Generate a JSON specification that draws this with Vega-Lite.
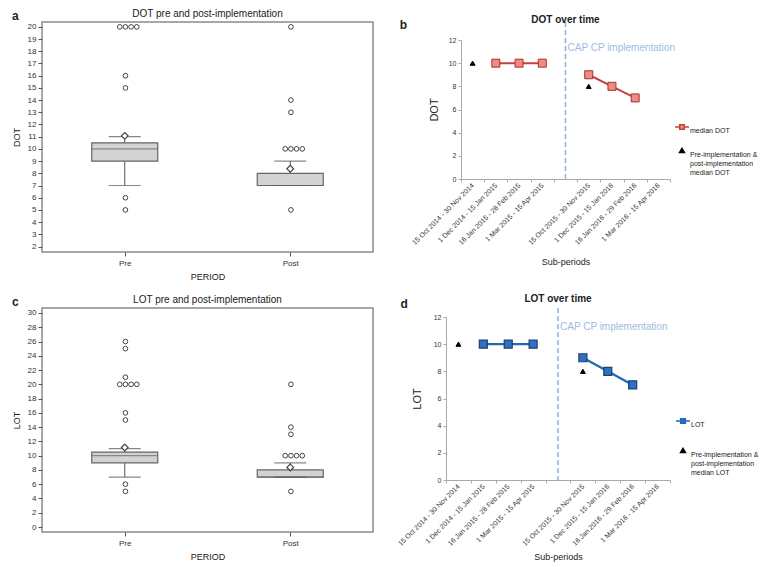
{
  "$schema": "https://vega.github.io/schema/vega-lite/v6.json",
  "background": "white",
  "padding": {"left": 11, "top": 8, "right": 2, "bottom": 2},
  "config": {
    "font": "Liberation Sans",
    "title": {"font": "Liberation Sans", "color": "#222"},
    "axis": {"labelFont": "Liberation Sans", "titleFont": "Liberation Sans", "labelColor": "#333", "titleColor": "#222", "titleFontWeight": "normal", "labelOverlap": false},
    "legend": {"labelFont": "Liberation Sans", "labelColor": "#222"}
  },
  "datasets": {
    "boxDOT": [
      {"period": "Pre", "lo": 7, "q1": 9, "median": 10, "q3": 10.5, "hi": 11, "mean": 11.07},
      {"period": "Post", "lo": 7, "q1": 7, "median": 7, "q3": 8, "hi": 9, "mean": 8.37}
    ],
    "outDOT": [
      {"period": "Pre", "value": 20, "dup": 0}, {"period": "Pre", "value": 20, "dup": 1}, {"period": "Pre", "value": 20, "dup": 2}, {"period": "Pre", "value": 20, "dup": 3},
      {"period": "Pre", "value": 16, "dup": 1}, {"period": "Pre", "value": 15, "dup": 1}, {"period": "Pre", "value": 6, "dup": 1}, {"period": "Pre", "value": 5, "dup": 1},
      {"period": "Post", "value": 20, "dup": 1}, {"period": "Post", "value": 14, "dup": 1}, {"period": "Post", "value": 13, "dup": 1},
      {"period": "Post", "value": 10, "dup": 0}, {"period": "Post", "value": 10, "dup": 1}, {"period": "Post", "value": 10, "dup": 2}, {"period": "Post", "value": 10, "dup": 3},
      {"period": "Post", "value": 5, "dup": 1}
    ],
    "boxLOT": [
      {"period": "Pre", "lo": 7, "q1": 9, "median": 10, "q3": 10.5, "hi": 11, "mean": 11.15},
      {"period": "Post", "lo": 7, "q1": 7, "median": 7, "q3": 8, "hi": 9, "mean": 8.35}
    ],
    "outLOT": [
      {"period": "Pre", "value": 26, "dup": 1}, {"period": "Pre", "value": 25, "dup": 1}, {"period": "Pre", "value": 21, "dup": 1},
      {"period": "Pre", "value": 20, "dup": 0}, {"period": "Pre", "value": 20, "dup": 1}, {"period": "Pre", "value": 20, "dup": 2}, {"period": "Pre", "value": 20, "dup": 3},
      {"period": "Pre", "value": 16, "dup": 1}, {"period": "Pre", "value": 15, "dup": 1}, {"period": "Pre", "value": 6, "dup": 1}, {"period": "Pre", "value": 5, "dup": 1},
      {"period": "Post", "value": 20, "dup": 1}, {"period": "Post", "value": 14, "dup": 1}, {"period": "Post", "value": 13, "dup": 1},
      {"period": "Post", "value": 10, "dup": 0}, {"period": "Post", "value": 10, "dup": 1}, {"period": "Post", "value": 10, "dup": 2}, {"period": "Post", "value": 10, "dup": 3},
      {"period": "Post", "value": 5, "dup": 1}
    ],
    "lineDOT": [
      {"period": "1 Dec 2014 - 15 Jan 2015", "value": 10, "series": "median DOT", "phase": "pre"},
      {"period": "16 Jan 2015 - 28 Feb 2015", "value": 10, "series": "median DOT", "phase": "pre"},
      {"period": "1 Mar 2015 - 15 Apr 2015", "value": 10, "series": "median DOT", "phase": "pre"},
      {"period": "15 Oct 2015 - 30 Nov 2015", "value": 9, "series": "median DOT", "phase": "post"},
      {"period": "1 Dec 2015 - 15 Jan 2016", "value": 8, "series": "median DOT", "phase": "post"},
      {"period": "16 Jan 2016 - 29 Feb 2016", "value": 7, "series": "median DOT", "phase": "post"},
      {"period": "15 Oct 2014 - 30 Nov 2014", "value": 10, "series": "Pre-implementation & post-implementation median DOT", "phase": "pre"},
      {"period": "15 Oct 2015 - 30 Nov 2015", "value": 8, "series": "Pre-implementation & post-implementation median DOT", "phase": "post"}
    ],
    "lineLOT": [
      {"period": "1 Dec 2014 - 15 Jan 2015", "value": 10, "series": "LOT", "phase": "pre"},
      {"period": "16 Jan 2015 - 28 Feb 2015", "value": 10, "series": "LOT", "phase": "pre"},
      {"period": "1 Mar 2015 - 15 Apr 2015", "value": 10, "series": "LOT", "phase": "pre"},
      {"period": "15 Oct 2015 - 30 Nov 2015", "value": 9, "series": "LOT", "phase": "post"},
      {"period": "1 Dec 2015 - 15 Jan 2016", "value": 8, "series": "LOT", "phase": "post"},
      {"period": "16 Jan 2016 - 29 Feb 2016", "value": 7, "series": "LOT", "phase": "post"},
      {"period": "15 Oct 2014 - 30 Nov 2014", "value": 10, "series": "Pre-implementation & post-implementation median LOT", "phase": "pre"},
      {"period": "15 Oct 2015 - 30 Nov 2015", "value": 8, "series": "Pre-implementation & post-implementation median LOT", "phase": "post"}
    ],
    "marker": [{"label": "CAP CP implementation"}]
  },
  "spacing": 12,
  "resolve": {"scale": {"shape": "independent", "fill": "independent", "stroke": "independent", "size": "independent"}, "legend": {"shape": "independent", "fill": "independent", "stroke": "independent", "size": "independent"}},
  "vconcat": [
    {
      "spacing": 25,
      "resolve": {"scale": {"shape": "independent", "fill": "independent", "stroke": "independent", "size": "independent"}, "legend": {"shape": "independent", "fill": "independent", "stroke": "independent", "size": "independent"}},
      "hconcat": [
        {
          "title": {"text": "a", "orient": "left", "anchor": "end", "angle": 0, "fontSize": 12, "fontWeight": "bold", "offset": -14, "dy": 3},
          "vconcat": [
            {
              "width": 331, "height": 230,
              "view": {"stroke": "#8a8a8a", "strokeWidth": 1.5},
              "title": {"text": "DOT pre and post-implementation", "fontSize": 10, "fontWeight": "normal", "offset": 3, "frame": "group"},
              "layer": [
                {"data": {"name": "boxDOT"}, "mark": {"type": "rule", "color": "#555"},
                 "encoding": {
                   "x": {"field": "period", "type": "nominal", "title": "PERIOD", "scale": {"type": "point", "domain": ["Pre", "Post"], "padding": 0.5},
                         "axis": {"labelAngle": 0, "labelFontSize": 8, "titleFontSize": 9, "tickSize": 4, "tickColor": "#555", "domain": false, "labelPadding": 3, "titlePadding": 5}},
                   "y": {"field": "lo", "type": "quantitative", "title": "DOT", "scale": {"domain": [1.55, 20.4], "nice": false, "zero": false},
                         "axis": {"values": [2,3,4,5,6,7,8,9,10,11,12,13,14,15,16,17,18,19,20], "tickCount": 40, "format": "d", "labelOverlap": false, "labelFontSize": 8, "titleFontSize": 9, "tickSize": 4, "tickColor": "#555", "domain": false, "grid": false, "labelPadding": 2, "titlePadding": 6}},
                   "y2": {"field": "q1"}}},
                {"data": {"name": "boxDOT"}, "mark": {"type": "rule", "color": "#555"},
                 "encoding": {"x": {"field": "period", "type": "nominal", "title": "PERIOD"}, "y": {"field": "q3", "type": "quantitative", "title": "DOT"}, "y2": {"field": "hi"}}},
                {"data": {"name": "boxDOT"}, "mark": {"type": "bar", "width": 66, "fill": "#d3d3d3", "stroke": "#666", "strokeWidth": 1.2},
                 "encoding": {"x": {"field": "period", "type": "nominal", "title": "PERIOD"}, "y": {"field": "q1", "type": "quantitative", "title": "DOT"}, "y2": {"field": "q3"}}},
                {"data": {"name": "boxDOT"}, "mark": {"type": "tick", "size": 66, "thickness": 1.2, "color": "#666"},
                 "encoding": {"x": {"field": "period", "type": "nominal", "title": "PERIOD"}, "y": {"field": "median", "type": "quantitative", "title": "DOT"}}},
                {"data": {"name": "boxDOT"}, "mark": {"type": "tick", "size": 32, "thickness": 1.2, "color": "#555"},
                 "encoding": {"x": {"field": "period", "type": "nominal", "title": "PERIOD"}, "y": {"field": "lo", "type": "quantitative", "title": "DOT"}}},
                {"data": {"name": "boxDOT"}, "mark": {"type": "tick", "size": 32, "thickness": 1.2, "color": "#555"},
                 "encoding": {"x": {"field": "period", "type": "nominal", "title": "PERIOD"}, "y": {"field": "hi", "type": "quantitative", "title": "DOT"}}},
                {"data": {"name": "boxDOT"}, "mark": {"type": "point", "shape": "diamond", "filled": true, "fill": "white", "stroke": "#444", "strokeWidth": 1.2, "size": 45, "opacity": 1},
                 "encoding": {"x": {"field": "period", "type": "nominal", "title": "PERIOD"}, "y": {"field": "mean", "type": "quantitative", "title": "DOT"}}},
                {"data": {"name": "outDOT"}, "mark": {"type": "point", "shape": "circle", "filled": false, "stroke": "#444", "strokeWidth": 1, "size": 22, "opacity": 1},
                 "encoding": {"x": {"field": "period", "type": "nominal", "title": "PERIOD"}, "xOffset": {"field": "dup", "type": "quantitative", "scale": {"domain": [0, 3], "range": [-5, 12]}},
                              "y": {"field": "value", "type": "quantitative", "title": "DOT"}}}
              ]
            }
          ]
        },
        {
          "title": {"text": "b", "orient": "left", "anchor": "end", "angle": 0, "fontSize": 12, "fontWeight": "bold", "offset": -4, "dy": 5},
          "resolve": {"scale": {"shape": "independent", "fill": "independent", "stroke": "independent", "size": "independent"}, "legend": {"shape": "independent", "fill": "independent", "stroke": "independent", "size": "independent"}},
          "vconcat": [
            {
              "width": 209, "height": 157,
              "view": {"stroke": null},
              "title": {"text": "DOT over time", "fontSize": 10, "fontWeight": "bold", "offset": -4, "frame": "group"},
              "layer": [
                {"data": {"name": "marker"}, "mark": {"type": "rule", "color": "#8fb1e0", "strokeDash": [5, 3], "strokeWidth": 1.5},
                 "encoding": {"x": {"datum": "gap", "type": "ordinal"}}},
                {"data": {"name": "marker"}, "mark": {"type": "text", "align": "left", "dx": 2, "color": "#9dbbe6", "fontSize": 10},
                 "encoding": {"x": {"datum": "gap", "type": "ordinal"}, "y": {"datum": 11.3, "type": "quantitative"}, "text": {"field": "label"}}},
                {"data": {"name": "lineDOT"}, "transform": [{"filter": "datum.series == 'median DOT'"}],
                 "mark": {"type": "line", "color": "#c9403a", "strokeWidth": 2},
                 "encoding": {
                   "x": {"field": "period", "type": "ordinal", "title": "Sub-periods",
                         "scale": {"type": "band", "paddingInner": 0, "paddingOuter": 0, "domain": ["15 Oct 2014 - 30 Nov 2014", "1 Dec 2014 - 15 Jan 2015", "16 Jan 2015 - 28 Feb 2015", "1 Mar 2015 - 15 Apr 2015", "gap", "15 Oct 2015 - 30 Nov 2015", "1 Dec 2015 - 15 Jan 2016", "16 Jan 2016 - 29 Feb 2016", "1 Mar 2016 - 15 Apr 2016"]},
                         "axis": {"labelAngle": -45, "labelExpr": "datum.value == 'gap' ? '' : datum.value", "labelFontSize": 7, "labelColor": "#333", "tickBand": "extent", "tickSize": 3, "tickColor": "#aaa", "domainColor": "#aaa", "titleFontSize": 9, "titlePadding": 12, "labelPadding": 2}},
                   "y": {"field": "value", "type": "quantitative", "title": "DOT", "scale": {"domain": [0, 12], "nice": false, "range": [157, 18]},
                         "axis": {"values": [0, 2, 4, 6, 8, 10, 12], "tickCount": 20, "format": "d", "labelOverlap": false, "labelFontSize": 7, "titleFontSize": 11, "gridColor": "#b5b5b5", "domainColor": "#aaa", "tickColor": "#aaa", "tickSize": 3, "labelPadding": 2, "titlePadding": 9}},
                   "detail": {"field": "phase"}}},
                {"data": {"name": "lineDOT"}, "transform": [{"filter": "datum.series == 'median DOT'"}],
                 "mark": {"type": "point", "shape": "square", "filled": true, "fill": "#f08a85", "stroke": "#a8322c", "strokeWidth": 1, "size": 64, "opacity": 1},
                 "encoding": {"x": {"field": "period", "type": "ordinal", "title": "Sub-periods"}, "y": {"field": "value", "type": "quantitative", "title": "DOT"}}},
                {"data": {"name": "lineDOT"}, "transform": [{"filter": "datum.series != 'median DOT'"}],
                 "mark": {"type": "point", "filled": true, "opacity": 1, "strokeWidth": 1},
                 "encoding": {
                   "x": {"field": "period", "type": "ordinal", "title": "Sub-periods"},
                   "y": {"field": "value", "type": "quantitative", "title": "DOT"},
                   "shape": {"field": "series", "type": "nominal", "scale": {"domain": ["median DOT", "Pre-implementation & post-implementation median DOT"], "range": ["M-1.8,0H-0.6M0.6,0H1.8M-0.6,-0.6H0.6V0.6H-0.6Z", "triangle-up"]},
                             "legend": {"title": null, "orient": "none", "legendX": 216, "legendY": 100, "labelFontSize": 7, "labelLimit": 200, "rowPadding": 11, "symbolStrokeWidth": 1.5, "labelOffset": 3,
                                        "labelExpr": "datum.value == 'median DOT' ? datum.label : ['Pre-implementation &', 'post-implementation', 'median DOT']",
                                        "labelBaseline": "top",
                                        "encode": {"labels": {"update": {"dy": {"value": -4}}}}}},
                   "fill": {"field": "series", "type": "nominal", "scale": {"domain": ["median DOT", "Pre-implementation & post-implementation median DOT"], "range": ["#f08a85", "black"]}},
                   "stroke": {"field": "series", "type": "nominal", "scale": {"domain": ["median DOT", "Pre-implementation & post-implementation median DOT"], "range": ["#c9403a", "black"]}},
                   "size": {"field": "series", "type": "ordinal", "scale": {"domain": ["median DOT", "Pre-implementation & post-implementation median DOT"], "range": [60, 24]}}}}
              ]
            }
          ]
        }
      ]
    },
    {
      "spacing": 22,
      "resolve": {"scale": {"shape": "independent", "fill": "independent", "stroke": "independent", "size": "independent"}, "legend": {"shape": "independent", "fill": "independent", "stroke": "independent", "size": "independent"}},
      "hconcat": [
        {
          "title": {"text": "c", "orient": "left", "anchor": "end", "angle": 0, "fontSize": 12, "fontWeight": "bold", "offset": -14, "dy": 3},
          "vconcat": [
            {
              "width": 331, "height": 224,
              "view": {"stroke": "#8a8a8a", "strokeWidth": 1.5},
              "title": {"text": "LOT pre and post-implementation", "fontSize": 10, "fontWeight": "normal", "offset": 3, "frame": "group"},
              "layer": [
                {"data": {"name": "boxLOT"}, "mark": {"type": "rule", "color": "#555"},
                 "encoding": {
                   "x": {"field": "period", "type": "nominal", "title": "PERIOD", "scale": {"type": "point", "domain": ["Pre", "Post"], "padding": 0.5},
                         "axis": {"labelAngle": 0, "labelFontSize": 8, "titleFontSize": 9, "tickSize": 4, "tickColor": "#555", "domain": false, "labelPadding": 3, "titlePadding": 5}},
                   "y": {"field": "lo", "type": "quantitative", "title": "LOT", "scale": {"domain": [-0.7, 30.7], "nice": false, "zero": false},
                         "axis": {"values": [0,2,4,6,8,10,12,14,16,18,20,22,24,26,28,30], "tickCount": 40, "format": "d", "labelOverlap": false, "labelFontSize": 8, "titleFontSize": 9, "tickSize": 4, "tickColor": "#555", "domain": false, "grid": false, "labelPadding": 2, "titlePadding": 6}},
                   "y2": {"field": "q1"}}},
                {"data": {"name": "boxLOT"}, "mark": {"type": "rule", "color": "#555"},
                 "encoding": {"x": {"field": "period", "type": "nominal", "title": "PERIOD"}, "y": {"field": "q3", "type": "quantitative", "title": "LOT"}, "y2": {"field": "hi"}}},
                {"data": {"name": "boxLOT"}, "mark": {"type": "bar", "width": 66, "fill": "#d3d3d3", "stroke": "#666", "strokeWidth": 1.2},
                 "encoding": {"x": {"field": "period", "type": "nominal", "title": "PERIOD"}, "y": {"field": "q1", "type": "quantitative", "title": "LOT"}, "y2": {"field": "q3"}}},
                {"data": {"name": "boxLOT"}, "mark": {"type": "tick", "size": 66, "thickness": 1.2, "color": "#666"},
                 "encoding": {"x": {"field": "period", "type": "nominal", "title": "PERIOD"}, "y": {"field": "median", "type": "quantitative", "title": "LOT"}}},
                {"data": {"name": "boxLOT"}, "mark": {"type": "tick", "size": 32, "thickness": 1.2, "color": "#555"},
                 "encoding": {"x": {"field": "period", "type": "nominal", "title": "PERIOD"}, "y": {"field": "lo", "type": "quantitative", "title": "LOT"}}},
                {"data": {"name": "boxLOT"}, "mark": {"type": "tick", "size": 32, "thickness": 1.2, "color": "#555"},
                 "encoding": {"x": {"field": "period", "type": "nominal", "title": "PERIOD"}, "y": {"field": "hi", "type": "quantitative", "title": "LOT"}}},
                {"data": {"name": "boxLOT"}, "mark": {"type": "point", "shape": "diamond", "filled": true, "fill": "white", "stroke": "#444", "strokeWidth": 1.2, "size": 45, "opacity": 1},
                 "encoding": {"x": {"field": "period", "type": "nominal", "title": "PERIOD"}, "y": {"field": "mean", "type": "quantitative", "title": "LOT"}}},
                {"data": {"name": "outLOT"}, "mark": {"type": "point", "shape": "circle", "filled": false, "stroke": "#444", "strokeWidth": 1, "size": 22, "opacity": 1},
                 "encoding": {"x": {"field": "period", "type": "nominal", "title": "PERIOD"}, "xOffset": {"field": "dup", "type": "quantitative", "scale": {"domain": [0, 3], "range": [-5, 12]}},
                              "y": {"field": "value", "type": "quantitative", "title": "LOT"}}}
              ]
            }
          ]
        },
        {
          "title": {"text": "d", "orient": "left", "anchor": "end", "angle": 0, "fontSize": 12, "fontWeight": "bold", "offset": -19, "dy": 5},
          "resolve": {"scale": {"shape": "independent", "fill": "independent", "stroke": "independent", "size": "independent"}, "legend": {"shape": "independent", "fill": "independent", "stroke": "independent", "size": "independent"}},
          "vconcat": [
            {
              "width": 224, "height": 172,
              "view": {"stroke": null},
              "title": {"text": "LOT over time", "fontSize": 10, "fontWeight": "bold", "offset": 3, "frame": "group"},
              "layer": [
                {"data": {"name": "marker"}, "mark": {"type": "rule", "color": "#8fb1e0", "strokeDash": [5, 3], "strokeWidth": 1.5},
                 "encoding": {"x": {"datum": "gap", "type": "ordinal"}}},
                {"data": {"name": "marker"}, "mark": {"type": "text", "align": "left", "dx": 2, "color": "#9dbbe6", "fontSize": 10},
                 "encoding": {"x": {"datum": "gap", "type": "ordinal"}, "y": {"datum": 11.3, "type": "quantitative"}, "text": {"field": "label"}}},
                {"data": {"name": "lineLOT"}, "transform": [{"filter": "datum.series == 'LOT'"}],
                 "mark": {"type": "line", "color": "#2068b8", "strokeWidth": 2.2},
                 "encoding": {
                   "x": {"field": "period", "type": "ordinal", "title": "Sub-periods",
                         "scale": {"type": "band", "paddingInner": 0, "paddingOuter": 0, "domain": ["15 Oct 2014 - 30 Nov 2014", "1 Dec 2014 - 15 Jan 2015", "16 Jan 2015 - 28 Feb 2015", "1 Mar 2015 - 15 Apr 2015", "gap", "15 Oct 2015 - 30 Nov 2015", "1 Dec 2015 - 15 Jan 2016", "16 Jan 2016 - 29 Feb 2016", "1 Mar 2016 - 15 Apr 2016"]},
                         "axis": {"labelAngle": -45, "labelExpr": "datum.value == 'gap' ? '' : datum.value", "labelFontSize": 7, "labelColor": "#333", "tickBand": "extent", "tickSize": 3, "tickColor": "#aaa", "domainColor": "#aaa", "titleFontSize": 9, "titlePadding": 6, "labelPadding": 2}},
                   "y": {"field": "value", "type": "quantitative", "title": "LOT", "scale": {"domain": [0, 12], "nice": false, "range": [172, 9]},
                         "axis": {"values": [0, 2, 4, 6, 8, 10, 12], "tickCount": 20, "format": "d", "labelOverlap": false, "labelFontSize": 7, "titleFontSize": 11, "gridColor": "#b5b5b5", "domainColor": "#aaa", "tickColor": "#aaa", "tickSize": 3, "labelPadding": 2, "titlePadding": 11}},
                   "detail": {"field": "phase"}}},
                {"data": {"name": "lineLOT"}, "transform": [{"filter": "datum.series == 'LOT'"}],
                 "mark": {"type": "point", "shape": "square", "filled": true, "fill": "#2f72c4", "stroke": "#1d3f72", "strokeWidth": 1.2, "size": 64, "opacity": 1},
                 "encoding": {"x": {"field": "period", "type": "ordinal", "title": "Sub-periods"}, "y": {"field": "value", "type": "quantitative", "title": "LOT"}}},
                {"data": {"name": "lineLOT"}, "transform": [{"filter": "datum.series != 'LOT'"}],
                 "mark": {"type": "point", "filled": true, "opacity": 1, "strokeWidth": 1},
                 "encoding": {
                   "x": {"field": "period", "type": "ordinal", "title": "Sub-periods"},
                   "y": {"field": "value", "type": "quantitative", "title": "LOT"},
                   "shape": {"field": "series", "type": "nominal", "scale": {"domain": ["LOT", "Pre-implementation & post-implementation median LOT"], "range": ["M-1.8,0H-0.6M0.6,0H1.8M-0.6,-0.6H0.6V0.6H-0.6Z", "triangle-up"]},
                             "legend": {"title": null, "orient": "none", "legendX": 232, "legendY": 108, "labelFontSize": 7, "labelLimit": 200, "rowPadding": 17, "symbolStrokeWidth": 1.5, "labelOffset": 3,
                                        "labelExpr": "datum.value == 'LOT' ? datum.label : ['Pre-implementation &', 'post-implementation', 'median LOT']",
                                        "labelBaseline": "top",
                                        "encode": {"labels": {"update": {"dy": {"value": -4}}}}}},
                   "fill": {"field": "series", "type": "nominal", "scale": {"domain": ["LOT", "Pre-implementation & post-implementation median LOT"], "range": ["#2f72c4", "black"]}},
                   "stroke": {"field": "series", "type": "nominal", "scale": {"domain": ["LOT", "Pre-implementation & post-implementation median LOT"], "range": ["#2068b8", "black"]}},
                   "size": {"field": "series", "type": "ordinal", "scale": {"domain": ["LOT", "Pre-implementation & post-implementation median LOT"], "range": [60, 24]}}}}
              ]
            }
          ]
        }
      ]
    }
  ]
}
